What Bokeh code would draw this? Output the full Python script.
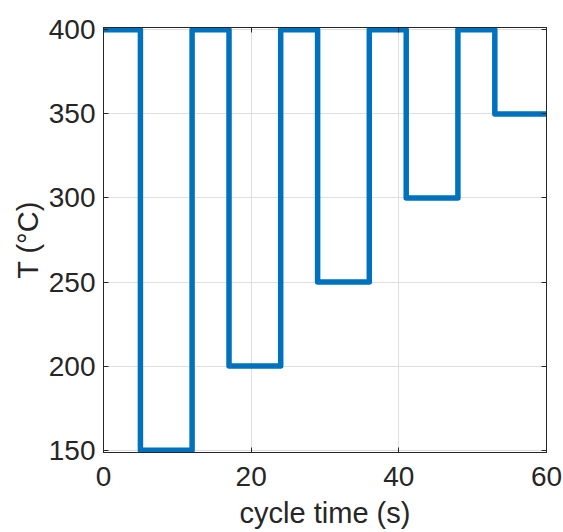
from bokeh.plotting import figure
from bokeh.models import LinearAxis, FixedTicker, Range1d
from bokeh.embed import file_html
from bokeh.resources import INLINE

# data
t_edges = [0, 5, 12, 17, 24, 29, 36, 41, 48, 53, 60]
temps = [400, 150, 400, 200, 400, 250, 400, 300, 400, 350, 350]
x_ticks = [0, 20, 40, 60]
y_ticks = [150, 200, 250, 300, 350, 400]

FONT = "Liberation Sans"
TXT = "#262626"

p = figure(width=563, height=532, output_backend="svg", toolbar_location=None,
           x_range=Range1d(0, 60), y_range=Range1d(148.6, 401.4),
           min_border_left=103, min_border_right=17, min_border_top=27, min_border_bottom=80,
           x_axis_label="cycle time (s)", y_axis_label="T (°C)")
p.outline_line_color = "#262626"
p.outline_line_width = 1
p.background_fill_color = "white"
p.border_fill_color = "white"

p.step(t_edges, temps, mode="after", line_color="#0072BD", line_width=5.5, line_join="round")

for ax, ticks in ((p.xaxis[0], x_ticks), (p.yaxis[0], y_ticks)):
    ax.ticker = FixedTicker(ticks=ticks)
    ax.major_tick_in = 5
    ax.major_tick_out = 0
    ax.minor_tick_line_color = None
    ax.axis_line_color = "#262626"
    ax.major_tick_line_color = "#262626"
    ax.major_label_text_font = FONT
    ax.major_label_text_font_size = "28px"
    ax.major_label_text_color = TXT
    ax.axis_label_text_font = FONT
    ax.axis_label_text_font_size = "29px"
    ax.axis_label_text_font_style = "normal"
    ax.axis_label_text_color = TXT

p.xaxis.major_label_standoff = 14
p.yaxis.major_label_standoff = 8
p.xaxis.axis_label_standoff = 8
p.yaxis.axis_label_standoff = 2

for loc, ticks in (("right", y_ticks), ("above", x_ticks)):
    a = LinearAxis(ticker=FixedTicker(ticks=ticks))
    a.major_label_overrides = {t: "" for t in ticks}
    a.major_tick_in = 5
    a.major_tick_out = 0
    a.minor_tick_line_color = None
    a.major_label_standoff = 0
    a.axis_line_color = "#262626"
    a.major_tick_line_color = "#262626"
    p.add_layout(a, loc)

p.xgrid.ticker = FixedTicker(ticks=x_ticks)
p.ygrid.ticker = FixedTicker(ticks=y_ticks)
p.grid.grid_line_color = "#dfdfdf"
p.grid.grid_line_width = 1

open("out.html", "w").write(file_html(p, INLINE))
